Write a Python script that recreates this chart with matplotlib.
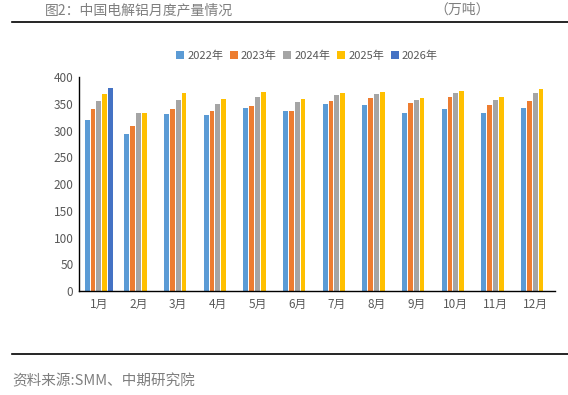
import matplotlib
matplotlib.use("Agg")
import matplotlib.pyplot as plt
import numpy as np

plt.rcParams['font.family'] = ['Noto Sans CJK SC', 'DejaVu Sans']

months = ['1月', '2月', '3月', '4月', '5月', '6月', '7月', '8月', '9月', '10月', '11月', '12月']
series_names = ['2022年', '2023年', '2024年', '2025年', '2026年']
v2022 = [320, 294, 332, 330, 343, 336, 350, 348, 333, 341, 333, 343]
v2023 = [341, 309, 341, 336, 347, 337, 356, 361, 352, 363, 348, 356]
v2024 = [356, 333, 358, 350, 363, 354, 367, 368, 358, 370, 358, 370]
v2025 = [369, 333, 371, 360, 372, 360, 370, 373, 361, 375, 363, 379]
v2026 = [380] + [np.nan] * 11
colors = ['#5B9BD5', '#ED7D31', '#A5A5A5', '#FFC000', '#4472C4']
yticks = [0, 50, 100, 150, 200, 250, 300, 350, 400]

W, H = 568, 395
fig = plt.figure(figsize=(W / 100, H / 100), dpi=100)
ax = fig.add_axes([79 / W, 1 - 291 / H, (555 - 79) / W, (291 - 77.3) / H])

x = np.arange(len(months))
slot = 0.147
bw = 0.125
data = [v2022, v2023, v2024, v2025, v2026]
for i, (vals, c, name) in enumerate(zip(data, colors, series_names)):
    ax.bar(x + (i - 2) * slot, vals, width=bw, color=c, label=name, zorder=2)

ax.set_xlim(-0.5, len(months) - 0.5)
ax.set_ylim(0, 400)
ax.set_yticks(yticks)
ax.set_xticks(x)
ax.set_xticklabels(months)
for s in ['top', 'right']:
    ax.spines[s].set_visible(False)
ax.spines['left'].set_color('black')
ax.spines['bottom'].set_color('black')
ax.spines['left'].set_linewidth(1.0)
ax.spines['bottom'].set_linewidth(1.0)
ax.tick_params(axis='both', length=0, labelsize=8.5, colors='#595959', pad=5)
ax.tick_params(axis='y', pad=4)

leg = ax.legend(loc='upper center', ncol=5, frameon=False, fontsize=8, handlelength=0.7, handleheight=0.7,
                handletextpad=0.3, columnspacing=0.6, borderaxespad=0)
for t in leg.get_texts():
    t.set_color('#595959')
leg.set_bbox_to_anchor((307 / W, 1 - 46 / H), transform=fig.transFigure)

fig.text(45 / W, 1 - 10 / H, '图2：中国电解铝月度产量情况', fontsize=10, color='#7f7f7f', va='center', ha='left')
fig.text(434 / W, 1 - 10 / H, '（万吨）', fontsize=10, color='#7f7f7f', va='center', ha='left')
fig.add_artist(plt.Line2D([12 / W, 1], [1 - 22 / H, 1 - 22 / H], color='black', lw=1.2, transform=fig.transFigure))
fig.add_artist(plt.Line2D([12 / W, 1], [1 - 354 / H, 1 - 354 / H], color='black', lw=1.2, transform=fig.transFigure))
fig.text(12 / W, 1 - 381 / H, '资料来源:SMM、中期研究院', fontsize=10.5, color='#7f7f7f', va='center', ha='left')

fig.savefig('out.png', dpi=100)
